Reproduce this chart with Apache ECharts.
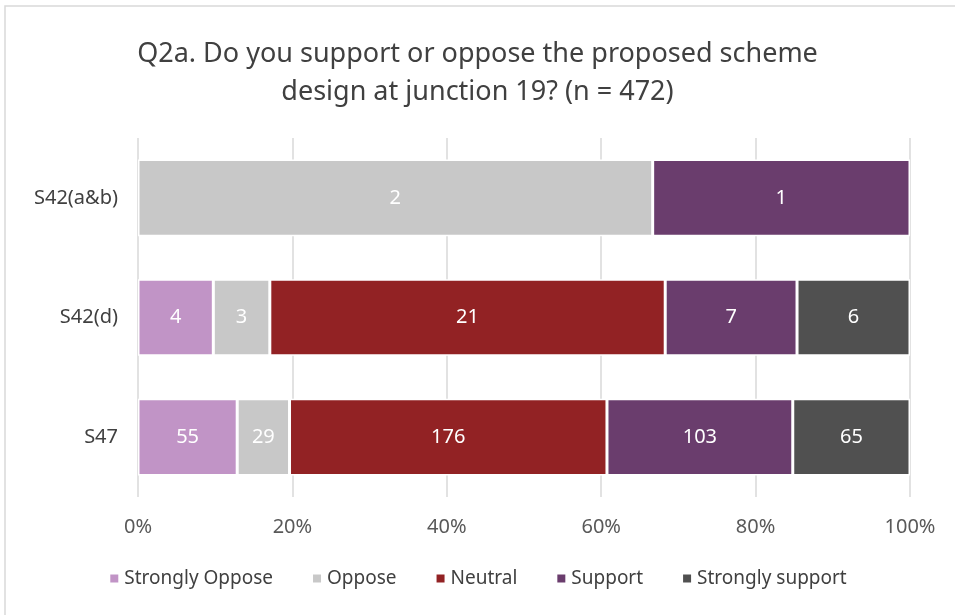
<!DOCTYPE html>
<html>
<head>
<meta charset="utf-8">
<script src="https://cdn.jsdelivr.net/npm/echarts@6/dist/echarts.min.js"></script>
<style>
  html, body { margin: 0; padding: 0; background: #fff; }
  #main { width: 955px; height: 615px; }
</style>
</head>
<body>
<div id="main"></div>
<script>
// categories top to bottom
var categories = ['S42(a&b)', 'S42(d)', 'S47'];
var seriesNames = ['Strongly Oppose', 'Oppose', 'Neutral', 'Support', 'Strongly support'];
var colors = ['#c194c6', '#c8c8c8', '#922224', '#6a3d6d', '#505050'];

// counts per category, in series order
var stronglyOppose = [0, 4, 55];
var oppose = [2, 3, 29];
var neutral = [0, 21, 176];
var support = [1, 7, 103];
var stronglySupport = [0, 6, 65];

var tickLabels = ['0%', '20%', '40%', '60%', '80%', '100%'];

var counts = [stronglyOppose, oppose, neutral, support, stronglySupport];
var totals = categories.map(function (c, i) {
  var t = 0;
  counts.forEach(function (s) { t += s[i]; });
  return t;
});

var font = 'Noto Sans';

var series = counts.map(function (s, k) {
  return {
    name: seriesNames[k],
    type: 'bar',
    stack: 'total',
    barWidth: '64%',
    itemStyle: { color: colors[k], borderColor: '#fff', borderWidth: 1.5 },
    label: {
      show: true,
      color: '#fff',
      fontFamily: font,
      fontSize: 20,
      formatter: function (p) { return p.data.count; }
    },
    data: s.map(function (v, i) {
      if (!v) return { value: '-', count: v };
      return { value: v / totals[i] * 100, count: v };
    })
  };
});

var myChart = echarts.init(document.getElementById('main'));
myChart.setOption({
  animation: false,
  title: {
    text: 'Q2a. Do you support or oppose the proposed scheme\ndesign at junction 19? (n = 472)',
    left: 'center',
    top: 30,
    textStyle: { fontFamily: font, fontWeight: 'normal', fontSize: 27, color: '#404040', lineHeight: 38 }
  },
  legend: {
    bottom: 22,
    left: 'center',
    itemWidth: 10,
    itemHeight: 10,
    itemGap: 38,
    icon: 'rect',
    textStyle: { fontFamily: font, fontSize: 19, color: '#404040' },
    data: seriesNames
  },
  grid: { left: 138, right: 45, top: 138, bottom: 118, containLabel: false },
  xAxis: {
    type: 'value',
    min: 0,
    max: 100,
    interval: 20,
    axisLine: { show: false },
    axisTick: { show: false },
    splitLine: { lineStyle: { color: '#d9d9d9', width: 1.5 } },
    axisLabel: {
      fontFamily: font, fontSize: 20, color: '#595959', margin: 20,
      formatter: function (v) { return tickLabels[v / 20]; }
    }
  },
  yAxis: {
    type: 'category',
    inverse: true,
    data: categories,
    axisLine: { show: false },
    axisTick: { show: false },
    axisLabel: { fontFamily: font, fontSize: 20, color: '#404040', margin: 20 }
  },
  graphic: [{
    type: 'rect',
    shape: { x: 5, y: 6, width: 960, height: 620 },
    style: { fill: 'none', stroke: '#d9d9d9', lineWidth: 1.5 },
    silent: true
  }],
  series: series
});
</script>
</body>
</html>
